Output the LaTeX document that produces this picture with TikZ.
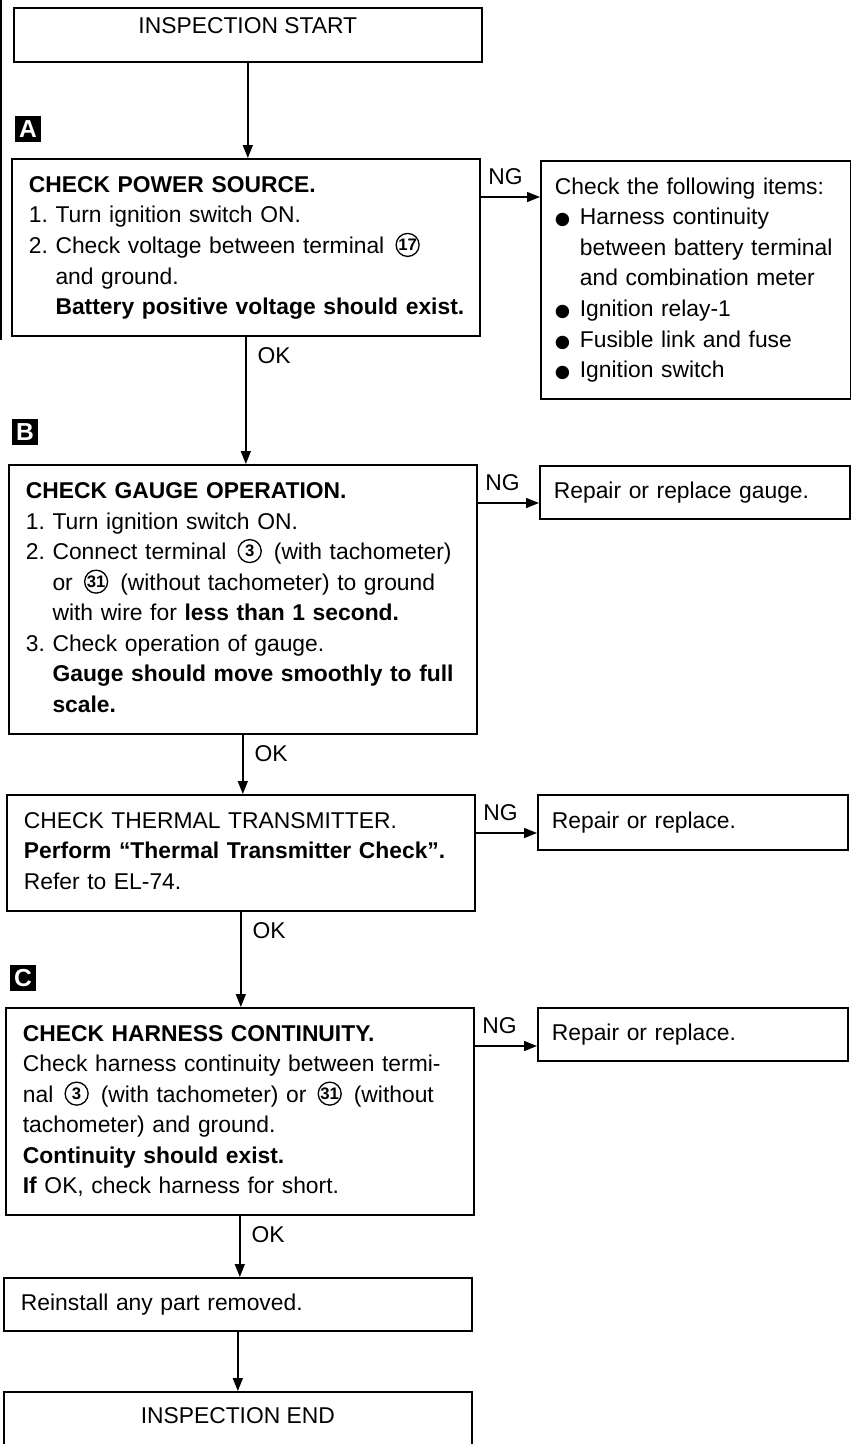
\documentclass[tikz,border=0pt]{standalone}
\usepackage{fontspec}
\setmainfont{Liberation Sans}
\newfontfamily\symbfont{DejaVu Sans}
\usetikzlibrary{arrows.meta, positioning, calc}

\newcommand{\bodyfont}{\fontsize{13}{17.4}\selectfont\frenchspacing}
\newcommand{\lines}[1]{\begin{tabular}{@{}l@{}}#1\end{tabular}}
\newcommand{\term}[1]{\kern2pt\relax\tikz[baseline={([yshift=-1.6pt]t.base)}]
  \node[num] (t) {#1};\kern2.5pt\relax}
\newcommand{\itm}{\makebox[0.5cm][l]{{\symbfont\fontsize{10}{10}\selectfont ●}}}
\newcommand{\ind}{\hspace*{0.5cm}}
\newcommand{\hang}{\hphantom{2. }}

\tikzset{
  box/.style     = {draw, line width=1pt, anchor=north west, align=left,
                    text width=8.68cm, inner xsep=0.34cm, inner ysep=0pt,
                    font=\bodyfont},
  sidebox/.style = {box, text width=5.64cm, inner xsep=0.28cm},
  endbox/.style  = {draw, line width=1pt, anchor=north west, inner sep=0pt,
                    minimum width=9.36cm, font=\bodyfont},
  arrow/.style   = {-{Triangle[length=0.26cm, width=0.2cm]}, line width=0.8pt},
  tag/.style     = {fill=black, text=white, minimum size=0.52cm, inner sep=0pt,
                    font=\fontsize{14}{14}\selectfont\bfseries},
  ng/.style      = {anchor=south west, inner xsep=0.14cm, inner ysep=0.24cm,
                    font=\bodyfont},
  ok/.style      = {anchor=north west, inner xsep=0.22cm, inner ysep=0.2cm,
                    font=\bodyfont},
  num/.style     = {circle, draw, line width=0.75pt, inner sep=0pt, fill=none,
                    minimum size=0.46cm, anchor=center, text width=,
                    font=\fontsize{9.5}{10}\selectfont\bfseries},
}

\begin{document}
\begin{tikzpicture}[x=0.02cm, y=-0.02cm]
  \useasboundingbox (0,0) rectangle (851,1444);
  \draw[line width=0.6pt] (1,0) -- (1,340);

  \node[endbox, text height=0.52cm, text depth=0.56cm] (start) at (13,7) {INSPECTION START};

  % A
  \node[tag] (tagA) at (28,129) {A};
  \node[box, minimum height=3.54cm] (chkA) at (11,158) {\lines{%
    \textbf{CHECK POWER SOURCE.}\\
    1. Turn ignition switch ON.\\
    2. Check voltage between terminal \term{17}\\
    \hang and ground.\\
    \hang\textbf{Battery positive voltage should exist.}}};
  \node[sidebox, minimum height=4.76cm] (fixA) at (540,160) {\lines{%
    Check the following items:\\
    \itm Harness continuity\\
    \ind between battery terminal\\
    \ind and combination meter\\
    \itm Ignition relay-1\\
    \itm Fusible link and fuse\\
    \itm Ignition switch}};

  % B
  \node[tag] (tagB) at (25,432) {B};
  \node[box, minimum height=5.38cm] (chkB) at (8,464) {\lines{%
    \textbf{CHECK GAUGE OPERATION.}\\
    1. Turn ignition switch ON.\\
    2. Connect terminal \term{3} (with tachometer)\\
    \hang or \term{31} (without tachometer) to ground\\
    \hang with wire for \textbf{less than 1 second.}\\
    3. Check operation of gauge.\\
    \hang\textbf{Gauge should move smoothly to full}\\
    \hang\textbf{scale.}}};
  \node[sidebox, minimum height=1.06cm] (fixB) at (539,465) {Repair or replace gauge.};

  \node[box, minimum height=2.32cm] (chkT) at (6,794) {\lines{%
    CHECK THERMAL TRANSMITTER.\\
    \textbf{Perform “Thermal Transmitter Check”.}\\
    Refer to EL-74.}};
  \node[sidebox, minimum height=1.1cm] (fixT) at (537,794) {Repair or replace.};

  % C
  \node[tag] (tagC) at (23,978) {C};
  \node[box, minimum height=4.14cm] (chkC) at (5,1007) {\lines{%
    \textbf{CHECK HARNESS CONTINUITY.}\\
    Check harness continuity between termi-\\
    nal \term{3} (with tachometer) or \term{31} (without\\
    tachometer) and ground.\\
    \textbf{Continuity should exist.}\\
    \textbf{If} OK, check harness for short.}};
  \node[sidebox, minimum height=1.06cm] (fixC) at (537,1007) {Repair or replace.};

  \node[box, minimum height=1.06cm] (reinst) at (3,1277) {Reinstall any part removed.};
  \node[endbox, text height=0.64cm, text depth=1.2cm] (finish) at (3,1391) {INSPECTION END};

  % OK path
  \draw[arrow] (start.south) -- (start.south |- chkA.north);
  \foreach \a/\b in {chkA/chkB, chkB/chkT, chkT/chkC, chkC/reinst}
    \draw[arrow] (\a.south) -- node[ok, pos=0] {OK} (\a.south |- \b.north);
  \draw[arrow] (reinst.south) -- (reinst.south |- finish.north);

  % NG branches
  \foreach \s in {A,B,T,C} {
    \coordinate (ng\s) at ($(chk\s.north east)+(0,39)$);
    \draw[arrow] (ng\s) -- node[ng, pos=0] {NG} (ng\s -| fix\s.west);
  }
\end{tikzpicture}
\end{document}
